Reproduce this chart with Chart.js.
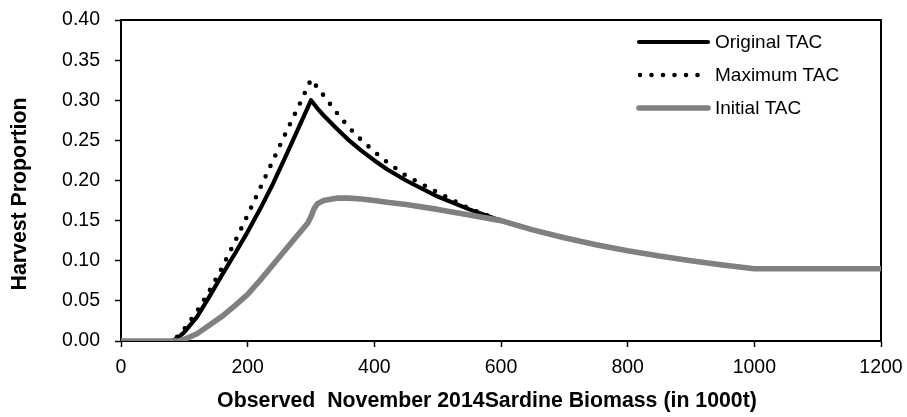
<!DOCTYPE html>
<html>
<head>
<meta charset="utf-8">
<script src="https://cdn.jsdelivr.net/npm/chart.js@4/dist/chart.umd.min.js"></script>
<style>
    html, body { margin: 0; padding: 0; background: #fff; }
    .chart-container { width: 907px; height: 417px; }
</style>
</head>
<body>
<div class="chart-container"><canvas id="tac-chart"></canvas></div>
<script>
// biomass (1000t) shared by all three curves
const biomass = [0, 80, 90, 100, 120, 140, 160, 180, 200, 220, 240, 260, 280, 295, 300, 305, 310, 320, 340, 360, 380, 400, 420, 450, 500, 550, 600, 650, 700, 750, 800, 850, 900, 950, 1000, 1100, 1200];

const originalTac = [0, 0, 0.004, 0.011, 0.030, 0.056, 0.083, 0.109, 0.136, 0.165, 0.196, 0.230, 0.265, 0.291, 0.300, 0.295, 0.290, 0.281, 0.265, 0.250, 0.237, 0.225, 0.214, 0.200, 0.180, 0.164, 0.150, 0.1385, 0.1286, 0.120, 0.1125, 0.1059, 0.100, 0.0947, 0.090, 0.090, 0.090];
const maximumTac = [0, 0, 0.006, 0.015, 0.037, 0.063, 0.092, 0.124, 0.157, 0.191, 0.225, 0.259, 0.292, 0.317, 0.326, 0.321, 0.316, 0.306, 0.285, 0.266, 0.250, 0.236, 0.223, 0.206, 0.185, 0.165, 0.150, 0.1385, 0.1286, 0.120, 0.1125, 0.1059, 0.100, 0.0947, 0.090, 0.090, 0.090];
const initialTac = [0, 0, 0, 0.002, 0.009, 0.020, 0.031, 0.044, 0.058, 0.076, 0.095, 0.114, 0.133, 0.147, 0.155, 0.165, 0.171, 0.175, 0.178, 0.178, 0.177, 0.175, 0.173, 0.170, 0.164, 0.157, 0.150, 0.1385, 0.1286, 0.120, 0.1125, 0.1059, 0.100, 0.0947, 0.090, 0.090, 0.090];

const seriesNames = ['Original TAC', 'Maximum TAC', 'Initial TAC'];
const xTicks = [0, 200, 400, 600, 800, 1000, 1200];
const xTitle = 'Observed  November 2014Sardine Biomass (in 1000t)';
const yTitle = 'Harvest Proportion';

const app = {};

app.toPoints = (values) => biomass.map((b, i) => ({ x: b, y: values[i] }));

app.styles = [
    { borderColor: '#000000', borderWidth: 4.2, borderDash: [], borderCapStyle: 'butt', order: 3 },
    { borderColor: '#000000', borderWidth: 4.6, borderDash: [0, 11.5], borderCapStyle: 'round', order: 2 },
    { borderColor: '#808080', borderWidth: 5.6, borderDash: [], borderCapStyle: 'butt', order: 1 }
];

// no automatic label padding, the layout padding sets the plot box
app.noPadding = (scale) => {
    scale.paddingLeft = 0;
    scale.paddingRight = 0;
    scale.paddingTop = 0;
    scale.paddingBottom = 0;
};

// frame, axis titles and the legend that sits inside the plot
app.decor = {
    id: 'decor',
    beforeDatasetsDraw(chart) {
        const { ctx, chartArea: a } = chart;
        ctx.save();
        ctx.strokeStyle = '#000';
        ctx.lineWidth = 2;
        ctx.beginPath();
        ctx.moveTo(a.left, a.top);
        ctx.lineTo(a.right, a.top);
        ctx.lineTo(a.right, a.bottom);
        ctx.stroke();
        ctx.restore();
    },
    afterDraw(chart) {
        const { ctx } = chart;
        ctx.save();
        ctx.fillStyle = '#000';
        ctx.font = 'bold 21.3px "Liberation Sans", Arial, sans-serif';
        ctx.textAlign = 'center';
        ctx.textBaseline = 'middle';
        ctx.fillText(xTitle, 487, 401);

        ctx.translate(20, 194);
        ctx.rotate(-Math.PI / 2);
        ctx.fillText(yTitle, 0, 0);
        ctx.restore();

        ctx.save();
        ctx.font = '19px "Liberation Sans", Arial, sans-serif';
        ctx.textAlign = 'left';
        ctx.textBaseline = 'middle';
        seriesNames.forEach((name, i) => {
            const y = 42 + i * 33;
            const s = app.styles[i];
            ctx.strokeStyle = s.borderColor;
            ctx.lineWidth = s.borderWidth;
            ctx.lineCap = 'round';
            ctx.setLineDash(s.borderDash);
            ctx.beginPath();
            ctx.moveTo(i === 1 ? 640 : 639, y);
            ctx.lineTo(708, y);
            ctx.stroke();
            ctx.setLineDash([]);
            ctx.fillStyle = '#000';
            ctx.fillText(name, 715, y + 1);
        });
        ctx.restore();
    }
};

app.draw = () => {
    const values = [originalTac, maximumTac, initialTac];
    const data = {
        datasets: seriesNames.map((name, i) => ({
            label: name,
            data: app.toPoints(values[i]),
            fill: false,
            tension: 0,
            pointRadius: 0,
            borderJoinStyle: 'round',
            ...app.styles[i]
        }))
    };

    const tickFont = { family: '"Liberation Sans", Arial, sans-serif', size: 19.5 };

    const config = {
        type: 'line',
        data: data,
        options: {
            responsive: false,
            animation: false,
            layout: { padding: { top: 20, right: 26, left: 0, bottom: 0 } },
            plugins: {
                legend: { display: false },
                tooltip: { enabled: false }
            },
            scales: {
                x: {
                    type: 'linear',
                    min: 0,
                    max: 1200,
                    afterBuildTicks: (scale) => { scale.ticks = xTicks.map(v => ({ value: v })); },
                    afterFit: (scale) => { scale.height = 76; app.noPadding(scale); },
                    grid: { drawOnChartArea: false, drawTicks: true, tickLength: 6, tickWidth: 1.5, tickColor: '#000' },
                    border: { display: true, color: '#000', width: 2 },
                    ticks: { color: '#000', font: tickFont, padding: 9, maxRotation: 0, callback: (v) => String(v) }
                },
                y: {
                    min: 0,
                    max: 0.4,
                    afterFit: (scale) => { scale.width = 121; app.noPadding(scale); },
                    grid: { drawOnChartArea: false, drawTicks: true, tickLength: 6, tickWidth: 1.5, tickColor: '#000' },
                    border: { display: true, color: '#000', width: 2 },
                    ticks: {
                        stepSize: 0.05,
                        color: '#000',
                        font: tickFont,
                        padding: 15,
                        callback: (v) => v.toFixed(2)
                    }
                }
            }
        },
        plugins: [app.decor]
    };

    const canvas = document.getElementById('tac-chart');
    canvas.width = 907;
    canvas.height = 417;
    const tacChart = new Chart(canvas, config);
};

app.draw();
</script>
</body>
</html>
